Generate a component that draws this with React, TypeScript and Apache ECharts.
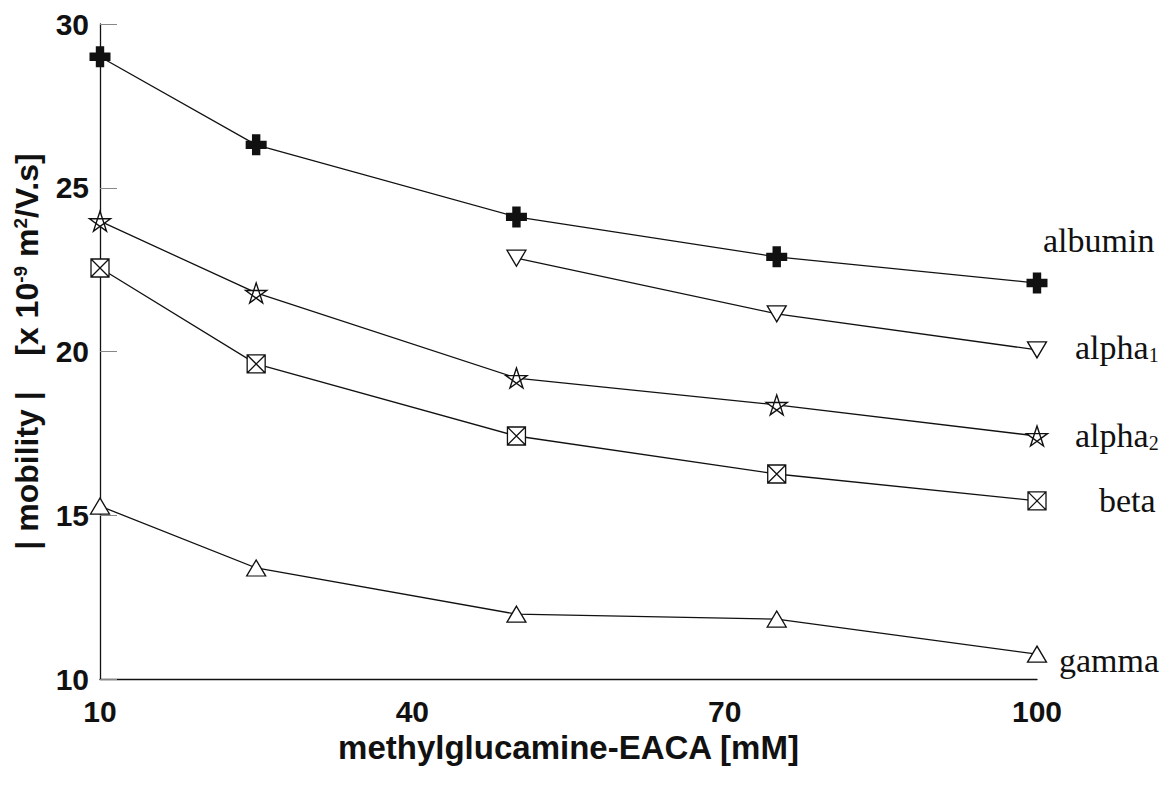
import React, { useEffect, useRef } from "react";
import * as echarts from "echarts";

const concentrations = [10, 25, 50, 75, 100];
const albumin = [29.0, 26.31, 24.11, 22.89, 22.09];
const alpha1X = [50, 75, 100];
const alpha1 = [22.85, 21.15, 20.05];
const alpha2 = [23.98, 21.79, 19.19, 18.37, 17.42];
const beta = [22.55, 19.62, 17.42, 16.26, 15.44];
const gamma = [15.28, 13.39, 11.98, 11.83, 10.76];

const xTicks = { min: 10, max: 100, interval: 30 };
const yTicks = { min: 10, max: 30, interval: 5 };

const PLUS = "path://M3,0H7V3H10V7H7V10H3V7H0V3H3Z";
const STAR =
  "path://M50,0L79.39,90.45L2.45,34.55L97.55,34.55L20.61,90.45Z";
const BOXX = "path://M0,0H10V10H0Z M0,0L10,10 M10,0L0,10";

const pairs = (xs: number[], ys: number[]) => xs.map((x, i) => [x, ys[i]]);

export default function App() {
  const ref = useRef<HTMLDivElement>(null);
  useEffect(() => {
    if (!ref.current) return;
    const chart = echarts.init(ref.current, null, { renderer: "svg" });
    const lineStyle = { color: "#111", width: 1.3 };
    const serifLabel = (text: string, offset: number[]) => ({
      show: true,
      formatter: text,
      offset,
      color: "#111",
      fontFamily: "Liberation Serif",
      fontSize: 34,
      rich: {
        sub: {
          fontFamily: "Liberation Serif",
          fontSize: 20,
          verticalAlign: "bottom",
          color: "#111",
          padding: [14, 0, 0, 0],
        },
      },
    });
    const supStyle = {
      fontFamily: "Liberation Sans",
      fontWeight: "bold",
      fontSize: 19,
      color: "#111",
      verticalAlign: "top",
      padding: [0, 0, 12, 0],
    };
    chart.setOption({
      animation: false,
      backgroundColor: "#fff",
      grid: { left: 100, right: 126, top: 24, bottom: 108 },
      xAxis: {
        type: "value",
        min: xTicks.min,
        max: xTicks.max,
        interval: xTicks.interval,
        splitLine: { show: false },
        axisTick: { show: false },
        axisLine: { lineStyle: { color: "#111", width: 1.3 } },
        axisLabel: {
          color: "#111",
          fontFamily: "Liberation Sans",
          fontWeight: "bold",
          fontSize: 30,
          margin: 17,
        },
        name: "methylglucamine-EACA [mM]",
        nameLocation: "middle",
        nameGap: 48,
        nameTextStyle: {
          color: "#111",
          fontFamily: "Liberation Sans",
          fontWeight: "bold",
          fontSize: 33,
        },
      },
      yAxis: {
        type: "value",
        min: yTicks.min,
        max: yTicks.max,
        interval: yTicks.interval,
        splitLine: { show: false },
        axisTick: {
          show: true,
          inside: true,
          length: 17,
          lineStyle: { color: "#888", width: 1 },
        },
        axisLine: { show: true, lineStyle: { color: "#111", width: 1.3 } },
        axisLabel: {
          color: "#111",
          fontFamily: "Liberation Sans",
          fontWeight: "bold",
          fontSize: 30,
          margin: 11,
        },
        name: "| mobility |    [x 10{sup|-9} m{sup|2}/V.s]",
        nameLocation: "middle",
        nameRotate: 90,
        nameGap: 57,
        nameTextStyle: {
          color: "#111",
          fontFamily: "Liberation Sans",
          fontWeight: "bold",
          fontSize: 32,
          rich: { sup: supStyle },
        },
      },
      series: [
        {
          name: "albumin",
          type: "line",
          data: pairs(concentrations, albumin),
          symbol: PLUS,
          symbolSize: 21,
          itemStyle: { color: "#111", borderWidth: 0 },
          lineStyle,
          endLabel: serifLabel("albumin", [-2, -43]),
        },
        {
          name: "alpha1",
          type: "line",
          data: pairs(alpha1X, alpha1),
          symbol: "triangle",
          symbolSize: [19, 16],
          symbolRotate: 180,
          itemStyle: { color: "#fff", borderColor: "#111", borderWidth: 1.3 },
          lineStyle,
          endLabel: serifLabel("alpha{sub|1}", [30, -2]),
        },
        {
          name: "alpha2",
          type: "line",
          data: pairs(concentrations, alpha2),
          symbol: STAR,
          symbolSize: 21,
          symbolKeepAspect: true,
          itemStyle: { color: "#fff", borderColor: "#111", borderWidth: 1.4 },
          lineStyle,
          endLabel: serifLabel("alpha{sub|2}", [30, 0]),
        },
        {
          name: "beta",
          type: "line",
          data: pairs(concentrations, beta),
          symbol: BOXX,
          symbolSize: 18,
          itemStyle: { color: "#fff", borderColor: "#111", borderWidth: 1.3 },
          lineStyle,
          endLabel: serifLabel("beta", [54, 0]),
        },
        {
          name: "gamma",
          type: "line",
          data: pairs(concentrations, gamma),
          symbol: "triangle",
          symbolSize: [19, 16],
          itemStyle: { color: "#fff", borderColor: "#111", borderWidth: 1.3 },
          lineStyle,
          endLabel: serifLabel("gamma", [14, 6]),
        },
      ],
    });
    return () => chart.dispose();
  }, []);
  return (
    <div
      ref={ref}
      style={{ position: "fixed", left: 0, top: 0, width: 1163, height: 787 }}
    />
  );
}
